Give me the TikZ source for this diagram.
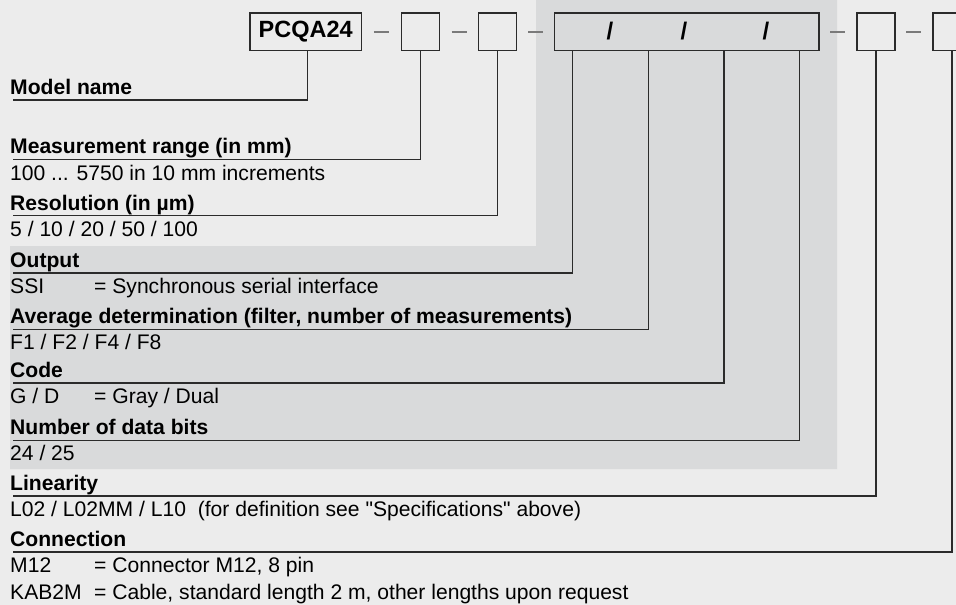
\documentclass[tikz,border=0pt]{standalone}
\usepackage{fontspec}
\setmainfont{Liberation Sans}
\usetikzlibrary{calc}
\definecolor{bgl}{HTML}{ECECEC}
\definecolor{bgd}{HTML}{D9DADB}
\definecolor{ln}{HTML}{2B2B2B}
\definecolor{dsh}{HTML}{7A7A7A}
\newcommand{\eqcol}[1]{\makebox[84pt][l]{#1}}
\newcommand{\sq}{\XeTeXglyph\XeTeXcharglyph34\relax}
\begin{document}
\begin{tikzpicture}[x=1pt,y=-1pt,
  box/.style={draw=ln,line width=1.3pt,fill=bgl,minimum width=38pt,minimum height=37.7pt,inner sep=0pt,anchor=north west},
  conn/.style={draw=ln,line width=1.3pt},
  dashln/.style={draw=dsh,line width=2pt},
  head/.style={anchor=base west,inner sep=0pt,font=\fontsize{21.1}{24}\selectfont\bfseries},
  body/.style={anchor=base west,inner sep=0pt,font=\fontsize{21.1}{24}\selectfont},
  slash/.style={inner sep=0pt,font=\fontsize{24}{28}\selectfont\bfseries}
  ]
\fill[bgl] (0,0) rectangle (956,605);
\useasboundingbox (0,0) rectangle (956,605);
\fill[bgd] (10,246) -- (536,246) -- (536,0) -- (837,0) -- (837,469) -- (10,469) -- cycle;

% top code boxes
\node[box, minimum width=111.4pt, font=\fontsize{23.5}{28}\selectfont\bfseries] (model) at (249.3,12.3) {PCQA24};
\node[box] (meas) at (400.7,12.3) {};
\node[box] (res) at (478,12.3) {};
\node[box, fill=bgd, minimum width=264.3pt] (big) at (554,12.3) {};
\node[box] (lin) at (856.3,12.3) {};
\node[box] (con) at (932.3,12.3) {};

\node[slash] (s1) at (610,31) {/};
\node[slash] (s2) at (684,31) {/};
\node[slash] (s3) at (766,31) {/};

% dashes between boxes
\foreach \a/\b in {model/meas, meas/res, res/big, big/lin, lin/con}{
  \draw[dashln] ($(\a.east)!0.5!(\b.west)+(-7.5,0)$) -- ($(\a.east)!0.5!(\b.west)+(7.5,0)$);
}

% labels
\node[head] (tmodel) at (10,94) {Model name};
\node[head] (tmeas) at (10,153.5) {Measurement range (in mm)};
\node[body] (vmeas) at (10,180) {100 ... 5750 in 10 mm increments};
\node[head] (tres) at (10,210) {Resolution (in µm)};
\node[body] (vres) at (10,236) {5 / 10 / 20 / 50 / 100};
\node[head] (tout) at (10,267) {Output};
\node[body] (vout) at (10,293) {\eqcol{SSI}= Synchronous serial interface};
\node[head] (tavg) at (10,323.5) {Average determination (filter, number of measurements)};
\node[body] (vavg) at (10,349.5) {F1 / F2 / F4 / F8};
\node[head] (tcode) at (10,377) {Code};
\node[body] (vcode) at (10,403) {\eqcol{G / D}= Gray / Dual};
\node[head] (tbits) at (10,434.5) {Number of data bits};
\node[body] (vbits) at (10,460.5) {24 / 25};
\node[head] (tlin) at (10,490) {Linearity};
\node[body] (vlin) at (10,516) {L02 / L02MM / L10\ \ (for definition see \sq Specifications\sq{} above)};
\node[head] (tcon) at (10,546) {Connection};
\node[body] (vcon1) at (10,572) {\eqcol{M12}= Connector M12, 8 pin};
\node[body] (vcon2) at (10,599) {\eqcol{KAB2M}= Cable, standard length 2 m, other lengths upon request};

% line ends
\coordinate (e1) at (13,100);
\coordinate (e2) at (13,159.3);
\coordinate (e3) at (13,215.7);
\coordinate (e4) at (13,273);
\coordinate (e5) at (13,329.3);
\coordinate (e6) at (13,383);
\coordinate (e7) at (13,440.5);
\coordinate (e8) at (13,496);
\coordinate (e9) at (13,552);

% connectors
\draw[conn] ([xshift=1.5pt]model.south) |- (e1);
\draw[conn] (meas.south) |- (e2);
\draw[conn] (res.south) |- (e3);
\draw[conn] ([xshift=18.7pt]big.south west) |- (e4);
\draw[conn] ([xshift=94.3pt]big.south west) |- (e5);
\draw[conn] ([xshift=170pt]big.south west) |- (e6);
\draw[conn] ([xshift=245.7pt]big.south west) |- (e7);
\draw[conn] (lin.south) |- (e8);
\draw[conn] (con.south) |- (e9);
\end{tikzpicture}
\end{document}
